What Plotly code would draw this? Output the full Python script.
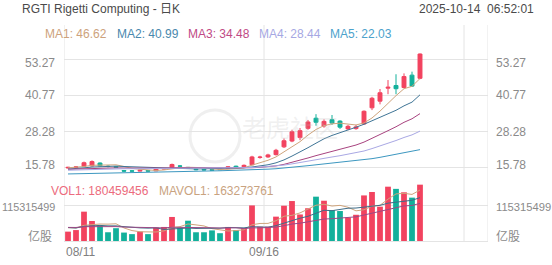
import plotly.graph_objects as go
import pandas as pd

W, H = 552, 265

dates = ["2025-08-11","2025-08-12","2025-08-13","2025-08-14","2025-08-15",
         "2025-08-18","2025-08-19","2025-08-20","2025-08-21","2025-08-22",
         "2025-08-25","2025-08-26","2025-08-27","2025-08-28","2025-08-29",
         "2025-09-02","2025-09-03","2025-09-04","2025-09-05",
         "2025-09-08","2025-09-09","2025-09-10","2025-09-11","2025-09-12",
         "2025-09-15","2025-09-16","2025-09-17","2025-09-18","2025-09-19",
         "2025-09-22","2025-09-23","2025-09-24","2025-09-25","2025-09-26",
         "2025-09-29","2025-09-30","2025-10-01","2025-10-02","2025-10-03",
         "2025-10-06","2025-10-07","2025-10-08","2025-10-09","2025-10-10",
         "2025-10-13"]

opens  = [15.7, 15.85, 16.3, 16.4, 17.4, 16.3, 16.2, 14.8, 14.7, 14.6,
          14.8, 14.7, 15.3, 15.9, 16.4, 15.9, 15.3, 15.2, 15.1, 15.3,
          15.6, 16.3, 16.1, 16.8, 19.3, 19.5, 20.3, 23.0, 25.0, 26.2,
          29.4, 32.9, 30.2, 32.4, 31.9, 29.2, 29.3, 30.9, 36.5, 38.8,
          43.3, 44.2, 43.5, 47.8, 46.7]
highs  = [16.1, 16.3, 17.9, 18.3, 17.6, 16.6, 16.3, 15.0, 14.9, 15.0,
          14.9, 15.6, 15.7, 17.2, 16.7, 16.0, 15.4, 15.3, 15.3, 15.5,
          16.3, 16.5, 16.9, 19.9, 19.9, 20.6, 22.3, 25.9, 28.9, 29.5,
          32.3, 34.3, 32.5, 34.0, 32.2, 30.6, 30.6, 35.6, 40.3, 43.0,
          46.1, 48.1, 48.4, 49.0, 55.3]
lows   = [15.5, 15.6, 16.1, 16.2, 16.2, 15.9, 15.8, 14.3, 14.4, 14.5,
          14.4, 14.6, 15.1, 15.8, 16.0, 15.4, 14.9, 14.8, 14.8, 15.0,
          15.5, 15.9, 16.0, 16.7, 18.9, 19.2, 20.0, 22.6, 24.6, 25.3,
          28.9, 30.3, 29.6, 30.6, 29.2, 28.8, 28.9, 30.7, 35.7, 37.7,
          41.2, 41.2, 43.2, 43.7, 46.4]
closes = [15.9, 16.05, 17.5, 17.9, 16.4, 16.2, 15.9, 14.6, 14.6, 14.9,
          14.6, 15.4, 15.5, 16.9, 16.3, 15.6, 15.1, 15.0, 14.9, 15.1,
          16.1, 16.0, 16.6, 19.5, 19.45, 20.2, 21.8, 25.1, 28.2, 28.6,
          31.6, 31.5, 31.8, 31.2, 29.8, 30.1, 29.9, 35.3, 39.8, 41.7,
          43.6, 43.1, 47.3, 44.0, 55.1]
volumes = [30e6, 35e6, 94e6, 64e6, 49e6, 28e6, 41e6, 27e6, 22e6, 30e6,
           22e6, 43e6, 45e6, 77e6, 43e6, 65e6, 28e6, 28e6, 34e6, 25e6,
           45e6, 35e6, 41e6, 114e6, 46e6, 46e6, 78e6, 113e6, 128e6, 85e6,
           105e6, 142e6, 129e6, 99e6, 96e6, 75e6, 84e6, 146e6, 157e6, 110e6,
           174e6, 167e6, 156e6, 138909349, 180459456]

# sessions before the visible window (needed for the moving averages)
prior_closes = [11.8, 12.1, 12.4, 12.0, 11.7, 11.9, 12.3, 12.6, 12.2, 11.9,
                12.0, 12.5, 12.9, 13.2, 12.8, 12.4, 12.1, 11.8, 12.0, 12.3,
                12.6, 12.4, 12.1, 12.3, 12.7, 13.0, 12.6, 12.3, 12.5, 12.8,
                13.1, 13.4, 13.8, 14.5, 15.2, 14.8, 14.3, 14.6, 14.2, 14.3,
                14.5, 14.9, 15.1, 14.6,
                15.6, 16.1, 15.8, 15.2, 15.0, 15.1,
                14.8, 14.6, 15.0, 15.1, 14.9,
                15.4, 15.9, 15.8, 15.7]
prior_volumes = [38e6, 45e6, 52e6, 40e6, 36e6, 48e6, 55e6, 42e6, 39e6, 44e6,
                 50e6, 41e6, 37e6, 46e6, 43e6, 40e6, 52e6, 48e6, 44e6]

ma_periods = [5, 10, 20, 30, 60]
ma_names = ["MA1", "MA2", "MA3", "MA4", "MA5"]
ma_colors = ["#cfa47c", "#3f7596", "#a8437f", "#a9a8e4", "#3c97c0"]
ma_text_colors = ["#cda27c", "#4a88ad", "#c04a85", "#a6a8e3", "#4ca2cc"]
vol_ma_periods = [5, 10, 20]
vol_ma_colors = ["#cfa47c", "#3f6d88", "#9b4a86"]

price_ticks = [15.78, 28.28, 40.77, 53.27]
price_tick_shift = [3, 0, 0, -4]
vol_tick = 115315499
xlabel_idx = [0, 25]
vgrid_pos = [-0.5, 24.5, 49.5, 52.5]

RED = "#f2435f"
GREEN = "#12b09b"
FONT = "Liberation Sans, Arial, Noto Sans CJK SC, sans-serif"

n = len(closes)
x = list(range(n))
all_close = pd.Series(prior_closes + closes)
mas = [all_close.rolling(p).mean().tolist()[-n:] for p in ma_periods]
all_vol = pd.Series(prior_volumes + volumes)
vmas = [all_vol.rolling(p).mean().tolist()[-n:] for p in vol_ma_periods]

fig = go.Figure()

for m, c in zip(mas, ma_colors):
    fig.add_trace(go.Scatter(x=x, y=m, mode="lines", line=dict(color=c, width=1),
                             hoverinfo="skip", xaxis="x", yaxis="y"))

fig.add_trace(go.Candlestick(
    x=x, open=opens, high=highs, low=lows, close=closes,
    increasing=dict(line=dict(color=RED, width=1), fillcolor=RED),
    decreasing=dict(line=dict(color=GREEN, width=1), fillcolor=GREEN),
    whiskerwidth=0, hoverinfo="skip", xaxis="x", yaxis="y"))

bar_colors = [RED if c >= o else GREEN for o, c in zip(opens, closes)]
fig.add_trace(go.Bar(x=x, y=volumes, marker=dict(color=bar_colors, line=dict(width=0)),
                     width=0.72, hoverinfo="skip", xaxis="x2", yaxis="y2"))
for m, c in zip(vmas, vol_ma_colors):
    fig.add_trace(go.Scatter(x=x, y=m, mode="lines", line=dict(color=c, width=1),
                             hoverinfo="skip", xaxis="x2", yaxis="y2"))

def py(p):
    return 1 - p / H

def px(p):
    return p / W

GRID = "#e4e4e4"
fig.update_layout(
    width=W, height=H, margin=dict(l=0, r=0, t=0, b=0),
    paper_bgcolor="white", plot_bgcolor="white", showlegend=False,
    font=dict(family=FONT, size=12, color="#888888"),
    xaxis=dict(domain=[px(64), px(488)], range=[-0.5, 52.5], anchor="y",
               showgrid=False, zeroline=False, showticklabels=False,
               rangeslider=dict(visible=False), fixedrange=True),
    yaxis=dict(domain=[py(178), py(45)], range=[12.22, 58.22], anchor="x",
               tickvals=price_ticks, showticklabels=False, showgrid=True,
               gridcolor=GRID, gridwidth=1, zeroline=False),
    xaxis2=dict(domain=[px(64), px(488)], range=[-0.5, 52.5], anchor="y2",
                showgrid=False, zeroline=False, showticklabels=False,
                showline=True, linecolor=GRID, linewidth=1),
    yaxis2=dict(domain=[py(241), py(180)], range=[0, 195.4e6], anchor="x2",
                tickvals=[vol_tick], showticklabels=False, showgrid=True,
                gridcolor=GRID, gridwidth=1, zeroline=False),
)

shapes = []
for v in vgrid_pos:
    shapes.append(dict(type="line", xref="x", yref="paper", x0=v, x1=v,
                       y0=py(241), y1=py(25), line=dict(color=GRID, width=1),
                       layer="below"))
shapes.append(dict(type="circle", xref="paper", yref="paper",
                   x0=px(190), x1=px(240), y0=py(162), y1=py(110),
                   line=dict(color="rgba(190,190,190,0.25)", width=3), layer="below"))
fig.update_layout(shapes=shapes)

ann = []
ann.append(dict(x=px(20), y=py(9), xref="paper", yref="paper", xanchor="left",
                yanchor="middle", showarrow=False, text="RGTI Rigetti Computing - 日K",
                font=dict(size=12, color="#4a4a4a")))
ann.append(dict(x=px(536), y=py(9), xref="paper", yref="paper", xanchor="right",
                yanchor="middle", showarrow=False, text="2025-10-14&nbsp;&nbsp;06:52:01",
                font=dict(size=12, color="#4a4a4a")))
leg_x = [43, 115, 186, 257, 328]
for name, m, c, lx in zip(ma_names, mas, ma_text_colors, leg_x):
    ann.append(dict(x=px(lx), y=py(34), xref="paper", yref="paper", xanchor="left",
                    yanchor="middle", showarrow=False, text=f"{name}: {m[-1]:.2f}",
                    font=dict(size=12, color=c)))
ann.append(dict(x=px(49), y=py(191), xref="paper", yref="paper", xanchor="left",
                yanchor="middle", showarrow=False, text=f"VOL1: {volumes[-1]:.0f}",
                font=dict(size=12, color="#ec6b7d")))
ann.append(dict(x=px(157), y=py(191), xref="paper", yref="paper", xanchor="left",
                yanchor="middle", showarrow=False, text=f"MAVOL1: {vmas[0][-1]:.0f}",
                font=dict(size=12, color="#c9a37f")))
for t, s in zip(price_ticks, price_tick_shift):
    for side_x, anch in ((px(57), "right"), (px(494), "left")):
        ann.append(dict(x=side_x, y=t, xref="paper", yref="y", xanchor=anch,
                        yanchor="middle", yshift=s, showarrow=False, text=f"{t:.2f}",
                        font=dict(size=12, color="#8a8a8a")))
for side_x, anch, fs in ((px(0), "left", 10.8), (px(494), "left", 11.2)):
    ann.append(dict(x=side_x, y=vol_tick, xref="paper", yref="y2", xanchor=anch,
                    yanchor="middle", yshift=-2, showarrow=False, text=str(vol_tick),
                    font=dict(size=fs, color="#8a8a8a")))
for side_x, anch in ((px(54), "right"), (px(494), "left")):
    ann.append(dict(x=side_x, y=0, xref="paper", yref="y2", xanchor=anch,
                    yanchor="middle", yshift=5, showarrow=False, text="亿股",
                    font=dict(size=12, color="#8a8a8a")))
for k, i in enumerate(xlabel_idx):
    d = dates[i]
    ann.append(dict(x=i - 0.5, y=py(252), xref="x", yref="paper",
                    xanchor="left" if k == 0 else "center", yanchor="middle",
                    showarrow=False, text=d[5:7] + "/" + d[8:10],
                    font=dict(size=12, color="#808080")))
# faint watermark
ann.append(dict(x=px(290), y=py(128), xref="paper", yref="paper", xanchor="center",
                yanchor="middle", showarrow=False, text="老虎社区",
                font=dict(size=24, color="rgba(190,190,190,0.22)")))
fig.update_layout(annotations=ann)

fig.write_html("out.html", config={"displayModeBar": False})
